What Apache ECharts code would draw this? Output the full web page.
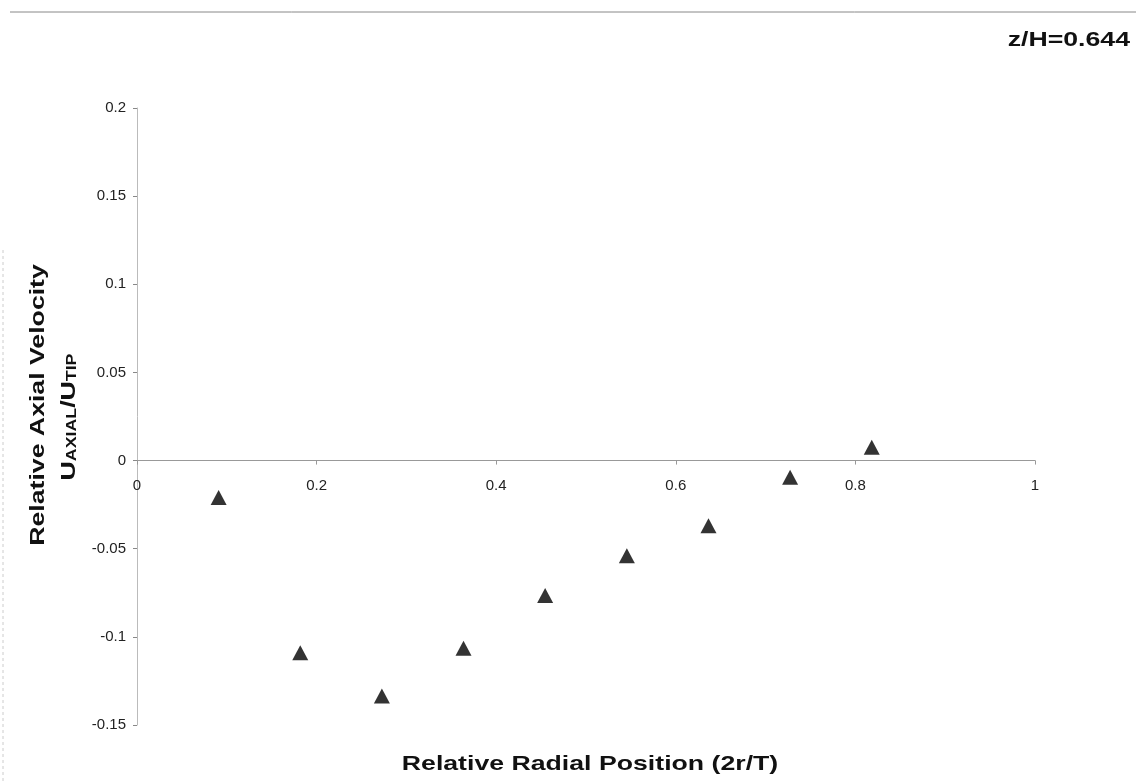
<!DOCTYPE html>
<html>
<head>
<meta charset="utf-8">
<script src="https://cdn.jsdelivr.net/npm/echarts@6/dist/echarts.min.js"></script>
<style>
html,body{margin:0;padding:0;background:#fff;}
#chart{width:1136px;height:782px;}
</style>
</head>
<body>
<div id="chart"></div>
<script>
// Data
const radialPosition = [0.0909, 0.1818, 0.2727, 0.3636, 0.4545, 0.5455, 0.6364, 0.7273, 0.8182];
const axialVelocity  = [-0.021, -0.109, -0.1335, -0.1065, -0.0765, -0.054, -0.037, -0.0095, 0.0075];
const xTicks = [0, 0.2, 0.4, 0.6, 0.8, 1];
const yTicks = [-0.15, -0.1, -0.05, 0, 0.05, 0.1, 0.15, 0.2];
const titleText = 'z/H=0.644';
const xTitle = 'Relative Radial Position (2r/T)';
const yTitle1 = 'Relative Axial Velocity';

const points = radialPosition.map((x, i) => [x, axialVelocity[i]]);

const chart = echarts.init(document.getElementById('chart'));
const font = 'Liberation Sans, Arial, sans-serif';
const stretch = 1.27;
chart.setOption({
  animation: false,
  backgroundColor: '#fff',
  grid: {left: 137, right: 101, top: 108, bottom: 57, containLabel: false},
  xAxis: {
    type: 'value',
    min: xTicks[0], max: xTicks[xTicks.length - 1], interval: 0.2,
    offset: 0,
    axisLine: {onZero: false, lineStyle: {color: '#999', width: 1}},
    axisTick: {show: true, length: 4, lineStyle: {color: '#999'}},
    axisLabel: {margin: 18, fontFamily: font, fontSize: 15, color: '#222',
      formatter: v => String(+v.toFixed(2))},
    splitLine: {show: false}
  },
  yAxis: {
    type: 'value',
    min: yTicks[0], max: yTicks[yTicks.length - 1], interval: 0.05,
    axisLine: {show: true, onZero: false, lineStyle: {color: '#bbb', width: 1}},
    axisTick: {show: true, length: 4, lineStyle: {color: '#888'}},
    axisLabel: {margin: 11, fontFamily: font, fontSize: 15, color: '#222',
      formatter: v => String(+v.toFixed(2))},
    splitLine: {show: false}
  },
  graphic: [
    {type: 'line', shape: {x1: 10, y1: 12, x2: 1136, y2: 12}, style: {stroke: '#888', lineWidth: 1}},
    {type: 'line', shape: {x1: 3, y1: 250, x2: 3, y2: 782}, style: {stroke: '#ccc', lineWidth: 1, lineDash: [3, 3]}},
    {type: 'text', x: 1130, y: 40, scaleX: stretch,
      style: {text: titleText, fontFamily: font, fontWeight: 'bold', fontSize: 21, fill: '#111', align: 'right', verticalAlign: 'middle'}},
    {type: 'text', x: 590, y: 764, scaleX: stretch,
      style: {text: xTitle, fontFamily: font, fontWeight: 'bold', fontSize: 21, fill: '#111', align: 'center', verticalAlign: 'middle'}},
    {type: 'text', x: 38, y: 405, rotation: Math.PI / 2, scaleX: stretch,
      style: {text: yTitle1, fontFamily: font, fontWeight: 'bold', fontSize: 21, fill: '#111', align: 'center', verticalAlign: 'middle'}},
    {type: 'text', x: 67, y: 417, rotation: Math.PI / 2, scaleX: stretch,
      style: {
        text: '{u|U}{s|AXIAL}{u|/U}{s|TIP}',
        fontFamily: font, fill: '#111', align: 'center', verticalAlign: 'middle',
        rich: {
          u: {fontFamily: font, fontWeight: 'bold', fontSize: 21, fill: '#111', verticalAlign: 'bottom', lineHeight: 25},
          s: {fontFamily: font, fontWeight: 'bold', fontSize: 14, fill: '#111', verticalAlign: 'bottom', lineHeight: 19}
        }
      }}
  ],
  series: [{
    type: 'scatter',
    data: points,
    symbol: 'triangle',
    symbolSize: [16, 15],
    itemStyle: {color: '#000'}
  }]
});
// Move the x axis (line, ticks, labels) to the y = 0 position using the library's scale
const yZero = chart.convertToPixel({yAxisIndex: 0}, 0);
const yBottom = chart.convertToPixel({yAxisIndex: 0}, yTicks[0]);
chart.setOption({xAxis: {offset: yZero - yBottom}});
</script>
</body>
</html>
